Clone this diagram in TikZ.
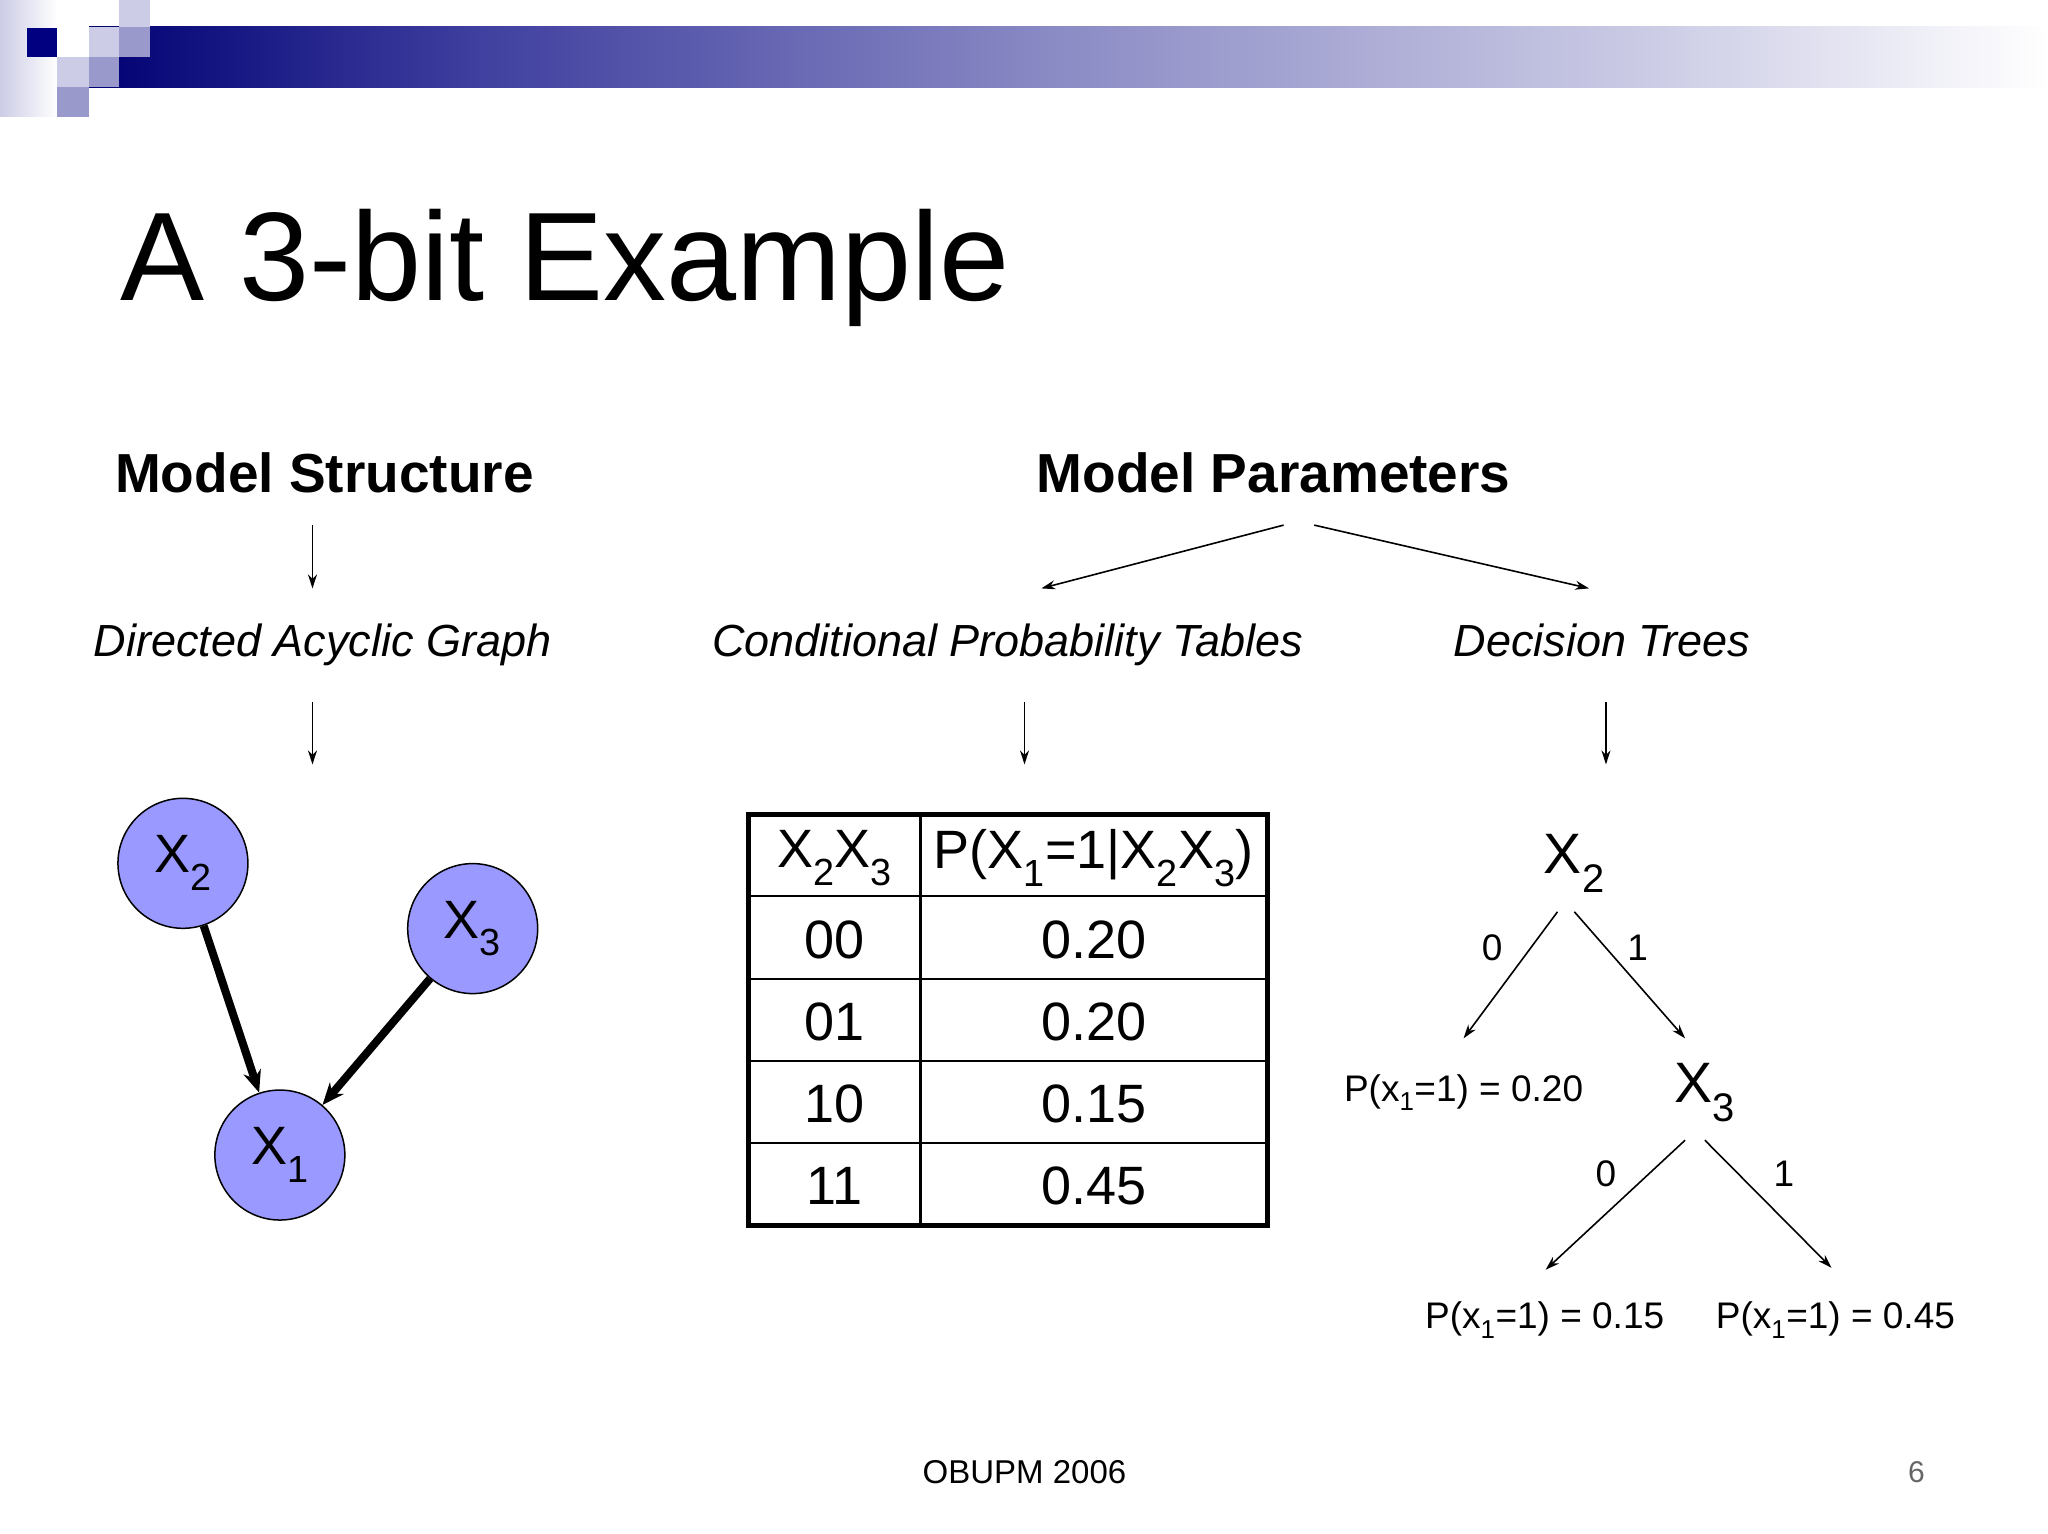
\documentclass[tikz,border=0pt]{standalone}
\usepackage{fontspec}
\setmainfont{Liberation Sans}
\usetikzlibrary{arrows.meta}
\definecolor{navy}{RGB}{0,0,128}
\definecolor{lsq}{RGB}{204,204,230}
\definecolor{msq}{RGB}{153,153,204}
\definecolor{nodefill}{RGB}{153,153,255}
\pgfdeclarehorizontalshading{barshade}{100bp}{color(0bp)=(navy!90!black); color(25bp)=(navy!90!black); color(35bp)=(navy!75!white); color(50bp)=(navy!45!white); color(65bp)=(navy!20!white); color(75bp)=(white); color(100bp)=(white)}
\begin{document}
\begin{tikzpicture}[x=0.989pt,y=-0.989pt,
  fs/.style={font=\fontsize{#1}{#1}\selectfont},
  thin arrow/.style={-{Stealth[length=14pt,width=9pt]},line width=1.6pt},
  vnode/.style={circle,draw=black,line width=1.5pt,fill=nodefill,minimum size=130pt,inner sep=0pt,fs=54},
  thick arrow/.style={-{Stealth[length=22pt,width=18pt]},line width=8pt},
  cell/.style={fs=54,anchor=center}]
\useasboundingbox (0,0) rectangle (2071,1551);
\fill[white] (0,0) rectangle (2071,1551);
% header decoration
\shade[left color=lsq,right color=white] (0,0) rectangle (58,118);
\shade[shading=barshade] (90,27) rectangle (2071,88);
\fill[white] (58,0) rectangle (90,58);
\fill[navy] (27,28) rectangle (58,58);
\fill[lsq] (90,27) rectangle (120,58);
\fill[lsq] (120,0) rectangle (152,27);
\fill[msq] (120,27) rectangle (152,58);
\fill[lsq] (58,58) rectangle (90,88);
\fill[msq] (90,58) rectangle (120,88);
\fill[msq] (58,88) rectangle (90,118);
% title
\node[fs=126,anchor=base west,inner sep=0] (title) at (122,304) {A 3-bit Example};
\node[font=\fontsize{55}{55}\selectfont\bfseries] (ms) at (328,478) {Model Structure};
\node[font=\fontsize{55}{55}\selectfont\bfseries] (mp) at (1288,478) {Model Parameters};
\node[font=\fontsize{45}{45}\selectfont\itshape,anchor=base] (dag) at (326,664) {Directed Acyclic Graph};
\node[font=\fontsize{45}{45}\selectfont\itshape,anchor=base] (cpt) at (1019,664) {Conditional Probability Tables};
\node[font=\fontsize{45}{45}\selectfont\itshape,anchor=base] (dt) at (1620,664) {Decision Trees};
\coordinate (a1) at (316,531); \coordinate (a2) at (316,595);
\draw[thin arrow] (a1) -- (a2);
\coordinate (b1) at (316,710); \coordinate (b2) at (316,773);
\draw[thin arrow] (b1) -- (b2);
\coordinate (c1) at (1036,710); \coordinate (c2) at (1036,773);
\draw[thin arrow] (c1) -- (c2);
\coordinate (d1) at (1624,710); \coordinate (d2) at (1624,773);
\draw[thin arrow] (d1) -- (d2);
\coordinate (e1) at (1298,531); \coordinate (e2) at (1053,595);
\draw[thin arrow] (e1) -- (e2);
\coordinate (f1) at (1329,531); \coordinate (f2) at (1607,595);
\draw[thin arrow] (f1) -- (f2);
% DAG
\node[vnode] (x2) at (185,873) {X\textsubscript{2}};
\node[vnode] (x3) at (478,939) {X\textsubscript{3}};
\node[vnode] (x1) at (283,1168) {X\textsubscript{1}};
\draw[thick arrow] (x2) -- (x1);
\draw[thick arrow] (x3) -- (x1);
% table
\draw[line width=2.5pt] (931,824) -- (931,1239);
\foreach \y in {906,990,1073,1156} \draw[line width=2.5pt] (757,\y) -- (1282,\y);
\draw[line width=5pt] (757,824) rectangle (1282,1239);
\node[cell] (h1) at (844,868) {X\textsubscript{2}X\textsubscript{3}};
\node[cell] (h2) at (1106,868) {P(X\textsubscript{1}=1|X\textsubscript{2}X\textsubscript{3})};
\node[cell] (r1a) at (844,950) {00}; \node[cell] (r1b) at (1106,950) {0.20};
\node[cell] (r2a) at (844,1033) {01}; \node[cell] (r2b) at (1106,1033) {0.20};
\node[cell] (r3a) at (844,1116) {10}; \node[cell] (r3b) at (1106,1116) {0.15};
\node[cell] (r4a) at (844,1199) {11}; \node[cell] (r4b) at (1106,1199) {0.45};
% tree
\node[fs=57] (t2) at (1592,873) {X\textsubscript{2}};
\node[fs=57] (t3) at (1724,1105) {X\textsubscript{3}};
\node[fs=37] (p0) at (1480,1105) {P(x\textsubscript{1}=1) = 0.20};
\node[fs=37] (p1) at (1562,1335) {P(x\textsubscript{1}=1) = 0.15};
\node[fs=37] (p2) at (1856,1335) {P(x\textsubscript{1}=1) = 0.45};
\coordinate (g1) at (1575,922); \coordinate (g2) at (1480,1050);
\coordinate (h1c) at (1592,922); \coordinate (h2c) at (1704,1050);
\coordinate (i1) at (1704,1153); \coordinate (i2) at (1563,1284);
\coordinate (j1) at (1724,1153); \coordinate (j2) at (1852,1282);
\draw[thin arrow] (g1) -- (g2);
\draw[thin arrow] (h1c) -- (h2c);
\draw[thin arrow] (i1) -- (i2);
\draw[thin arrow] (j1) -- (j2);
\node[fs=37] (l0) at (1509,958) {0};
\node[fs=37] (l1) at (1656,958) {1};
\node[fs=37] (l2) at (1624,1187) {0};
\node[fs=37] (l3) at (1804,1187) {1};
% footer
\node[fs=33] (foot) at (1036,1489) {OBUPM 2006};
\node[fs=30,text=black!60] (pg) at (1938,1489) {6};
\end{tikzpicture}
\end{document}
